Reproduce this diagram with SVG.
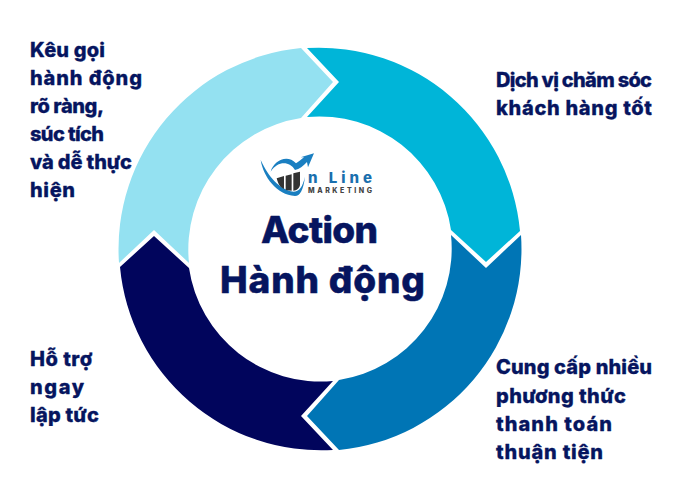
<svg xmlns="http://www.w3.org/2000/svg" width="700" height="500" viewBox="0 0 700 500">
<style>
.t{font-family:"Inter","Noto Sans",sans-serif;font-weight:800;font-size:20px;fill:#06155f;stroke:#06155f;stroke-width:.3;stroke-linejoin:round}
.h{font-family:"Inter","Noto Sans",sans-serif;font-weight:800;font-size:37px;fill:#06155f;stroke:#06155f;stroke-width:.5;stroke-linejoin:round}
</style>
<rect width="700" height="500" fill="#fff"/>
<g id="connectors"></g>
<g id="seg-cyan"><path d="M307 48A202 202 0 0 1 520 231L486 262L451 230A133 133 0 0 0 307 117L339 82Z" fill="#00b5d8"/></g>
<g id="seg-blue"><path d="M521 235A202 202 0 0 1 339 450L307 416L339 380A133 133 0 0 0 451 235L486 268Z" fill="#0075b5"/></g>
<g id="seg-navy"><path d="M333 450A202 202 0 0 1 120 267L154 236L189 268A133 133 0 0 0 333 381L301 416Z" fill="#01055c"/></g>
<g id="seg-light"><path d="M119 263A202 202 0 0 1 301 48L333 82L301 118A133 133 0 0 0 189 263L154 230Z" fill="#94e1f1"/></g>
<g id="logo">
<g transform="translate(240 140) scale(.3333)">
<path d="M62 60C70 110 110 165 165 168C180 168 190 150 195 110C188 140 178 155 160 155C120 150 85 110 62 60Z" fill="#1a7fc1"/>
<path d="M92 95C100 65 140 40 168 70C175 66 185 58 192 52L182 52L222 40L204 82L201 66C190 78 178 88 165 90C150 65 115 60 92 95Z" fill="#1a7fc1"/>
<path d="M110 115L132 108V147C122 143 115 135 110 115ZM137 107L155 103V152L137 150ZM160 100L180 95V135C178 145 170 152 160 152Z" fill="#333"/>
</g>
<text x="308" y="183" textLength="64" font-family="Inter,'Noto Sans',sans-serif" font-weight="800" font-size="15" fill="#1a6fae">n Line</text>
<text x="308" y="193" textLength="64" font-family="Inter,'Noto Sans',sans-serif" font-weight="800" font-size="7" fill="#444">MARKETING</text>
</g>
<g id="center"><text class="h" x="261" y="243" textLength="117">Action</text><text class="h" x="220" y="293" textLength="205">Hành động</text></g>
<g id="label-tl"><text class="t" x="30" y="57" textLength="75">Kêu gọi</text><text class="t" x="30" y="85" textLength="112">hành động</text><text class="t" x="30" y="113" textLength="74">rõ ràng,</text><text class="t" x="30" y="141" textLength="74">súc tích</text><text class="t" x="30" y="169" textLength="102">và dễ thực</text><text class="t" x="30" y="197" textLength="45">hiện</text></g>
<g id="label-tr"><text class="t" x="496" y="87" textLength="156">Dịch vị chăm sóc</text><text class="t" x="496" y="115" textLength="156">khách hàng tốt</text></g>
<g id="label-br"><text class="t" x="496" y="374" textLength="156">Cung cấp nhiều</text><text class="t" x="496" y="403" textLength="130">phương thức</text><text class="t" x="496" y="431" textLength="116">thanh toán</text><text class="t" x="496" y="459" textLength="107">thuận tiện</text></g>
<g id="label-bl"><text class="t" x="30" y="366" textLength="62">Hỗ trợ</text><text class="t" x="30" y="394" textLength="54">ngay</text><text class="t" x="30" y="422" textLength="69">lập tức</text></g>
</svg>
